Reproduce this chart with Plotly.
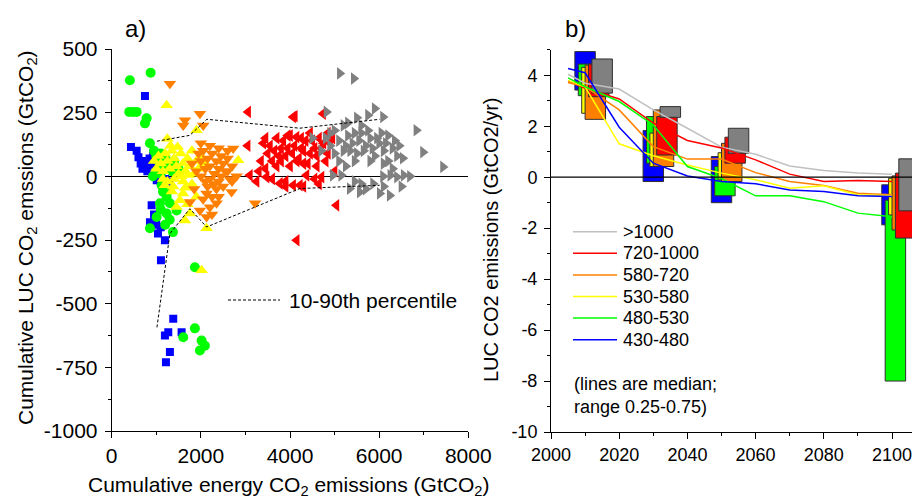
import plotly.graph_objects as go

W, H = 912, 499

# ---------------- panel a: cumulative LUC vs energy CO2 ----------------
blue_x = [746, 432, 560, 600, 650, 690, 720, 760, 800, 850, 900, 930, 980, 1010, 1050, 1100, 1150, 1200,
          896, 858, 1038, 1194, 1105, 950, 1000, 1100, 1250, 1300,
          1381, 1269, 1194, 1568, 1306, 1217]
blue_y = [315, 115, 100, 75, 50, 30, 60, 40, 20, 70, 45, 90, 5, -15, 30, -20, -40, -10,
          -114, -180, -224, -251, -330, -150, -190, -200, -50, -20,
          -559, -612, -625, -612, -690, -730]

green_x = [408, 874, 394, 480, 560, 784, 746, 858, 950, 1000, 1050, 1100, 1150, 1200, 1250, 1300, 1350,
           1400, 1500, 1000, 1100, 926, 1120, 1232, 1083, 1306, 1232, 1008, 858, 1374, 1456, 1200,
           1100, 1300, 1250, 1150, 1866, 1866, 1605, 2017, 1979, 2090]
green_y = [377, 407, 253, 253, 253, 228, 208, 130, 100, 80, 60, 90, 40, 70, 30, 50, 20,
           60, 30, 20, 10, 0, -35, -81, -106, -106, -146, -160, -204, -219, -134, -190,
           -130, -170, -60, -60, -357, -597, -632, -645, -684, -665]

yellow_x = [1232, 1247, 1904, 2838, 950, 1000, 1050, 1100, 1150, 1200, 1250, 1300, 1350, 1400, 1450,
            1500, 1550, 1600, 1650, 1700, 1750, 1800, 1850, 1900, 1950, 2000, 2100, 1150, 1250, 1400,
            1600, 1800, 1194, 1600, 1530, 1755, 1643, 2128, 2017, 1450, 1700, 1350, 1900,
            1320, 1480, 1560, 1720, 1380, 1650]
yellow_y = [279, 148, 181, 63, 60, 30, 80, 50, 20, 90, 60, 30, 100, 70, 40,
            10, 90, 50, 20, 70, 40, 100, 10, 60, 30, 80, 50, -10, -20, -10,
            -20, -30, -35, -67, -94, -146, -173, -204, -369, -120, -110, -60, -80,
            120, 115, 0, 5, -40, -45]

orange_x = [1306, 1979, 1643, 1605, 2053, 2725, 1950, 2000, 2050, 2100, 2150, 2200, 2250, 2300, 2350,
            2400, 2450, 2500, 2550, 2600, 2650, 2700, 2000, 2100, 2200, 2300, 2400, 2500, 1755, 2128,
            2203, 2353, 2689, 3216, 1979, 2128, 2050, 2250, 1850, 2800,
            2000, 2200, 2400, 2600, 1800, 1900, 2150, 2350, 2450, 2600, 2700, 2250, 2400]
orange_y = [364, 246, 220, 200, 200, 109, 90, 60, 100, 30, 70, 40, 90, 10, 60,
            30, 80, 50, 20, 70, -10, 40, 0, -20, -10, -30, -20, -40, -101, -67,
            -121, -106, -62, -106, -134, -160, -90, -80, -50, 0,
            130, 120, 110, 100, 50, 20, -40, -50, 0, 20, -20, -150, -80]

red_x = [3061, 4108, 4070, 4742, 4146, 3400, 3500, 3600, 3700, 3800, 3900, 4000, 4100, 4200, 4300,
         4400, 4500, 4600, 4700, 4800, 4900, 3700, 3950, 4250, 4450, 4850, 3100, 3474, 3772, 4070,
         4220, 4370, 4706, 5042, 4150, 3900, 4550, 3300, 3600, 5000,
         3350, 3450, 3550, 3650, 3750, 3850, 3950, 4050, 4150, 4250, 4350, 4450, 4550, 4650, 4750,
         4850, 4950, 4000, 4300, 3800, 4600, 3250, 3900, 4300, 4650, 3450, 3050]
red_y = [253, 236, 233, 246, 154, 130, 90, 60, 150, 110, 80, 40, 120, 70, 100,
         50, 140, 80, 110, 60, 130, 40, 160, 150, 170, 170, 4, -3, -28, -35,
         -35, 4, -3, -114, -251, -20, -10, 20, -10, 20,
         60, 150, 120, 100, 80, 140, 110, 90, 60, 110, 140, 90, 110, 150, 130,
         90, 150, 160, 50, 60, 40, -20, -40, -40, -30, 30, 120]

gray_x = [5117, 5430, 4818, 5900, 6087, 6835, 6983, 7432, 6530, 4800, 4900, 5000, 5100, 5200, 5300,
          5400, 5500, 5600, 5700, 5800, 5900, 6000, 6100, 6200, 6300, 6400, 5000, 5200, 5600, 5450,
          5800, 6200, 4960, 5150, 6087, 6250, 6400, 6550, 6690, 5340, 5565, 5864, 6013, 6237, 5700,
          4500, 4700,
          5250, 5350, 5450, 5550, 5650, 5750, 5850, 5950, 6050, 6150, 6350, 5300, 5500, 5750, 6450,
          5100, 4900, 5250, 6100, 6300, 5600, 6100, 6500, 5450]
gray_y = [404, 384, 253, 266, 233, 181, 95, 37, 71, 150, 120, 180, 140, 100, 160,
          130, 90, 170, 120, 150, 80, 130, 100, 160, 110, 80, 90, 200, 200, 60,
          60, 60, 4, 4, 0, 4, -3, 4, 0, -48, -62, -29, -67, -75, -50,
          150, 100,
          120, 100, 170, 140, 100, 180, 110, 150, 170, 130, 140, 210, 230, 240, 120,
          60, 170, 40, 50, 30, -30, -40, -40, -20]

# 10th / 90th percentile envelopes
pct_hi_x = [1015, 1306, 1754, 2135, 4220, 6010]
pct_hi_y = [138, 148, 161, 224, 189, 224]
pct_lo_x = [1015, 1306, 1754, 2130, 4220, 6010]
pct_lo_y = [-593, -225, -127, -199, -48, -35]

# ---------------- panel b: annual LUC CO2 pathways ----------------
categories = [">1000", "720-1000", "580-720", "530-580", "480-530", "430-480"]
years_line = [2005, 2010, 2020, 2030, 2040, 2050, 2060, 2070, 2080, 2090, 2100]
med_gt1000 = [4.04, 3.69, 3.46, 2.64, 1.92, 1.18, 0.90, 0.44, 0.26, 0.16, 0.12]
med_720_1000 = [3.78, 3.49, 3.07, 2.12, 1.44, 1.15, 0.68, 0.12, -0.17, -0.13, -0.17]
med_580_720 = [3.72, 3.55, 2.64, 1.20, 0.71, 0.71, 0.18, -0.17, -0.33, -0.63, -0.69]
med_530_580 = [3.80, 3.55, 1.31, 0.84, 0.48, 0.16, -0.10, -0.43, -0.34, -0.69, -0.73]
med_480_530 = [3.90, 3.55, 2.97, 2.05, 0.42, -0.05, -0.73, -0.73, -0.96, -1.41, -1.55]
med_430_480 = [4.27, 4.10, 1.96, 0.55, 0.05, -0.17, -0.26, -0.50, -0.56, -0.73, -0.76]

years_box = [2010, 2030, 2050, 2100]
q75_gt1000 = [4.64, 2.77, 1.92, 0.72]
q25_gt1000 = [3.30, 2.35, 0.94, -1.32]
q75_720_1000 = [4.44, 2.38, 1.57, 0.16]
q25_720_1000 = [3.16, 0.87, 0.55, -2.39]
q75_580_720 = [4.40, 2.64, 1.33, 0.05]
q25_580_720 = [2.27, 0.42, -0.17, -2.07]
q75_530_580 = [4.31, 1.73, 0.96, -0.04]
q25_530_580 = [2.51, 0.42, -0.10, -1.48]
q75_480_530 = [4.44, 2.38, 0.42, -0.90]
q25_480_530 = [3.20, 0.55, -0.73, -8.00]
q75_430_480 = [4.93, 1.83, 0.81, -0.30]
q25_430_480 = [3.42, -0.17, -1.00, -1.87]

FONT = "Liberation Sans, Arial, sans-serif"
C_BLUE, C_GREEN, C_YELLOW = "#0000FF", "#00FF00", "#FFFF00"
C_ORANGE, C_RED, C_GRAY, C_LGRAY = "#FF8000", "#FF0000", "#808080", "#C0C0C0"
FS_A, FS_B = 21, 18


def paper(xp, yp):
    return xp / W, 1 - yp / H


def text(xp, yp, txt, size, xanchor="left", angle=0):
    tx, ty = paper(xp, yp)
    return dict(x=tx, y=ty, xref="paper", yref="paper", text=txt, showarrow=False,
                xanchor=xanchor, yanchor="middle", textangle=angle,
                font=dict(size=size, color="black", family=FONT))


fig = go.Figure()

scatter_sets = [
    (blue_x, blue_y, "square", 8, C_BLUE),
    (green_x, green_y, "circle", 10, C_GREEN),
    (yellow_x, yellow_y, "triangle-up", 11, C_YELLOW),
    (orange_x, orange_y, "triangle-down", 11, C_ORANGE),
    (red_x, red_y, "triangle-left", 11, C_RED),
    (gray_x, gray_y, "triangle-right", 11, C_GRAY),
]
for xs, ys, sym, sz, col in scatter_sets:
    fig.add_trace(go.Scatter(x=xs, y=ys, mode="markers", xaxis="x", yaxis="y",
                             marker=dict(symbol=sym, size=sz, color=col, line=dict(width=0)),
                             showlegend=False, hoverinfo="skip"))

for xs, ys in [(pct_hi_x, pct_hi_y), (pct_lo_x, pct_lo_y)]:
    fig.add_trace(go.Scatter(x=xs, y=ys, mode="lines", xaxis="x", yaxis="y",
                             line=dict(color="black", width=1, dash="3px,2px"),
                             showlegend=False, hoverinfo="skip"))

# interquartile boxes, drawn left-to-right from lowest to highest category
box_sets = [
    (q25_430_480, q75_430_480, C_BLUE),
    (q25_480_530, q75_480_530, C_GREEN),
    (q25_530_580, q75_530_580, C_YELLOW),
    (q25_580_720, q75_580_720, C_ORANGE),
    (q25_720_1000, q75_720_1000, C_RED),
    (q25_gt1000, q75_gt1000, C_GRAY),
]
for i, (lo, hi, col) in enumerate(box_sets):
    fig.add_trace(go.Bar(x=years_box, y=[h - l for h, l in zip(hi, lo)], base=lo,
                         offset=-3 + i, width=6, xaxis="x2", yaxis="y2",
                         marker=dict(color=col, line=dict(color="#303030", width=1)),
                         showlegend=False, hoverinfo="skip"))

line_sets = [
    (med_gt1000, C_LGRAY), (med_720_1000, C_RED), (med_580_720, C_ORANGE),
    (med_530_580, C_YELLOW), (med_480_530, C_GREEN), (med_430_480, C_BLUE),
]
for ys, col in line_sets:
    fig.add_trace(go.Scatter(x=years_line, y=ys, mode="lines", xaxis="x2", yaxis="y2",
                             line=dict(color=col, width=1.5), showlegend=False, hoverinfo="skip"))

shapes = []
annotations = []

# zero line of panel b sits above the boxes
shapes.append(dict(type="line", xref="x2 domain", yref="y2", x0=0, x1=1, y0=0, y1=0,
                   line=dict(color="black", width=1.2), layer="above"))

# panel b legend
legend_colors = [C_LGRAY, C_RED, C_ORANGE, C_YELLOW, C_GREEN, C_BLUE]
for k, (name, col) in enumerate(zip(categories, legend_colors)):
    yp = 231.7 + 21.6 * k
    x0, y0 = paper(573, yp)
    x1, _ = paper(617, yp)
    shapes.append(dict(type="line", xref="paper", yref="paper", x0=x0, x1=x1, y0=y0, y1=y0,
                       line=dict(color=col, width=1.5)))
    annotations.append(text(621, yp, name, FS_B))
for k, txt in enumerate(["(lines are median;", "range 0.25-0.75)"]):
    annotations.append(text(572, 384 + 22.7 * k, txt, FS_B))

# panel a percentile key
x0, y0 = paper(228, 300)
x1, _ = paper(280, 300)
shapes.append(dict(type="line", xref="paper", yref="paper", x0=x0, x1=x1, y0=y0, y1=y0,
                   line=dict(color="black", width=1, dash="3px,2px")))
annotations.append(text(287, 300, "10-90th percentile", FS_A))

# panel labels and axis titles
annotations.append(text(135, 28, "a)", 24, xanchor="center"))
annotations.append(text(575, 28, "b)", 24, xanchor="center"))
annotations.append(text(288, 486, "Cumulative energy CO<sub>2</sub> emissions (GtCO<sub>2</sub>)",
                        FS_A, xanchor="center"))
annotations.append(text(27, 238, "Cumulative LUC CO<sub>2</sub> emssions (GtCO<sub>2</sub>)",
                        FS_A, xanchor="center", angle=-90))
annotations.append(text(491, 240, "LUC CO2 emissions (GtCO2/yr)", 20, xanchor="center", angle=-90))

xa_ticks = [0, 2000, 4000, 6000, 8000]
ya_ticks = [500, 250, 0, -250, -500, -750, -1000]
xb_ticks = [2000, 2020, 2040, 2060, 2080, 2100]
yb_ticks = [4, 2, 0, -2, -4, -6, -8, -10]


def axis_style(size):
    return dict(showgrid=False, showline=True, linecolor="black", linewidth=1,
                ticks="outside", ticklen=6, tickwidth=1, tickcolor="black", automargin=False,
                ticklabeloverflow="allow",
                tickfont=dict(size=size, color="black", family=FONT))


def minor(step):
    return dict(ticks="outside", ticklen=3, dtick=step, tickcolor="black", showgrid=False)


fig.update_layout(
    template="none",
    width=W, height=H, margin=dict(l=0, r=0, t=0, b=0, pad=0), autosize=False,
    paper_bgcolor="white", plot_bgcolor="white", barmode="overlay", showlegend=False,
    font=dict(family=FONT, color="black"),
    xaxis=dict(domain=[111.7 / W, 468.3 / W], range=[0, 8000], anchor="y",
               tickvals=xa_ticks, ticktext=[str(v) for v in xa_ticks], zeroline=False,
               minor=minor(1000), **axis_style(FS_A)),
    yaxis=dict(domain=[1 - 431 / H, 1 - 49 / H], range=[-1000, 500], anchor="x",
               tickvals=ya_ticks, ticktext=[str(v) for v in ya_ticks], ticklabelstandoff=3,
               zeroline=True, zerolinecolor="black", zerolinewidth=1.2,
               minor=minor(125), **axis_style(FS_A)),
    xaxis2=dict(domain=[551 / W, 1.0], range=[2000, 2000 + 361 / 3.41], anchor="y2",
                tickvals=xb_ticks, ticktext=[str(v) for v in xb_ticks], zeroline=False,
                minor=minor(10), **axis_style(FS_B)),
    yaxis2=dict(domain=[1 - 432 / H, 1 - 49.8 / H], range=[-10, 5], anchor="x2",
                tickvals=yb_ticks, ticktext=[str(v) for v in yb_ticks], ticklabelstandoff=3,
                zeroline=False, minor=minor(1), **axis_style(FS_B)),
    shapes=shapes, annotations=annotations,
)

fig.write_html("out.html")
